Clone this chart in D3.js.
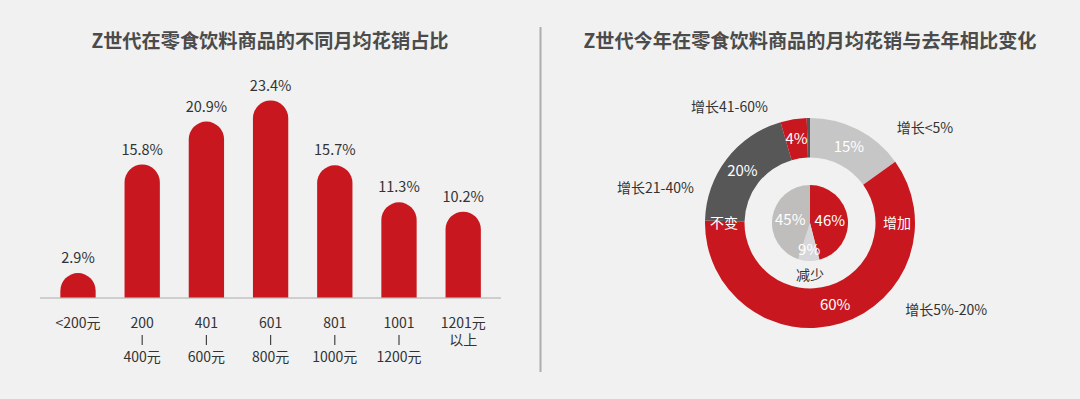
<!DOCTYPE html>
<html>
<head>
<meta charset="utf-8">
<script src="https://cdn.jsdelivr.net/npm/d3@7"></script>
<style>
  html, body { margin: 0; padding: 0; background: #f0f1f0; }
  svg { display: block; font-family: "Noto Sans CJK SC", "Noto Sans", sans-serif; }
</style>
</head>
<body>
<div id="chart"></div>
<script>
// left chart data ("|" marks the little separator between range ends)
const spendCategories = [["<200元"], ["200", "|", "400元"], ["401", "|", "600元"], ["601", "|", "800元"],
    ["801", "|", "1000元"], ["1001", "|", "1200元"], ["1201元", "以上"]];
const spendShares = [2.9, 15.8, 20.9, 23.4, 15.7, 11.3, 10.2];

// right chart data
const ringNames = ["增长<5%", "增长5%-20%", "增长21-40%", "增长41-60%", "增长60%以上"];
const ringValues = [15, 60, 20, 4, 0.5];
const pieNames = ["增加", "减少", "不变"];
const pieValues = [46, 9, 45];

const W = 1080, H = 399;
const red = "#c8171e", dark = "#575757";
const textColor = "#333";

const svg = d3.select("#chart").append("svg")
    .attr("width", W)
    .attr("height", H);

svg.append("rect").attr("width", W).attr("height", H).attr("fill", "#f0f1f0");

// ---------- left: bar chart ----------
const left = svg.append("g");
const baseY = 297.5;

left.append("text")
    .attr("x", 270).attr("y", 41).attr("dy", "0.35em")
    .attr("text-anchor", "middle")
    .attr("font-size", 19.2).attr("font-weight", "bold")
    .attr("fill", "#4b4b4b")
    .text("Z世代在零食饮料商品的不同月均花销占比");

const x = d3.scaleBand()
    .domain(d3.range(spendShares.length))
    .range([45.9, 495.3])
    .paddingInner(0.45)
    .paddingOuter(0.225);

const y = d3.scaleLinear()
    .domain([0, 23.4])
    .range([baseY, 100.5]);

// axis line
left.append("line")
    .attr("x1", 40).attr("x2", 501)
    .attr("y1", baseY + 0.5).attr("y2", baseY + 0.5)
    .attr("stroke", "#c2c2c2").attr("stroke-width", 1.6);

const bw = x.bandwidth();
const r = bw / 2;
function barPath(i, v) {
    const x0 = x(i), top = y(v);
    return `M${x0},${baseY} V${top + r} A${r},${r} 0 0 1 ${x0 + bw},${top + r} V${baseY} Z`;
}

left.selectAll("path.bar")
    .data(spendShares)
    .join("path")
    .attr("class", "bar")
    .attr("d", (d, i) => barPath(i, d))
    .attr("fill", red);

left.selectAll("text.val")
    .data(spendShares)
    .join("text")
    .attr("class", "val")
    .attr("x", (d, i) => x(i) + bw / 2)
    .attr("y", d => y(d) - 15)
    .attr("dy", "0.35em")
    .attr("text-anchor", "middle")
    .attr("font-size", 14.5)
    .attr("fill", textColor)
    .text(d => d.toFixed(1) + "%");

// category labels: one text per category, lines as tspans
const lineH = 16.7, firstLine = 323.3;
const cat = left.selectAll("g.cat")
    .data(spendCategories)
    .join("g")
    .attr("class", "cat")
    .attr("transform", (d, i) => `translate(${x(i) + bw / 2},0)`);

cat.append("text")
    .attr("text-anchor", "middle")
    .attr("font-size", 14)
    .attr("fill", textColor)
    .selectAll("tspan")
    .data(d => d.map((s, j) => ({ s, j })).filter(o => o.s !== "|"))
    .join("tspan")
    .attr("x", 0)
    .attr("y", o => firstLine + o.j * lineH)
    .attr("dy", "0.35em")
    .text(o => o.s);

cat.selectAll("line")
    .data(d => d.map((s, j) => ({ s, j })).filter(o => o.s === "|"))
    .join("line")
    .attr("x1", 0).attr("x2", 0)
    .attr("y1", o => firstLine + o.j * lineH - 5)
    .attr("y2", o => firstLine + o.j * lineH + 5)
    .attr("stroke", "#444")
    .attr("stroke-width", 1.2);

// divider
svg.append("line")
    .attr("x1", 540.5).attr("x2", 540.5)
    .attr("y1", 27).attr("y2", 372)
    .attr("stroke", "#adadad").attr("stroke-width", 2);

// ---------- right: donut ----------
svg.append("text")
    .attr("x", 810).attr("y", 41).attr("dy", "0.35em")
    .attr("text-anchor", "middle")
    .attr("font-size", 19.2).attr("font-weight", "bold")
    .attr("fill", "#4b4b4b")
    .text("Z世代今年在零食饮料商品的月均花销与去年相比变化");

const cx = 810, cy = 223;
const right = svg.append("g").attr("transform", `translate(${cx},${cy})`);

const ringColors = ["#c6c6c6", red, dark, red, dark];
const pieColors = [red, "#d7d7d9", "#c0bebc"];

const pie = d3.pie().sort(null).value(d => d);
const ringArcs = pie(ringValues);
const pieArcs = pie(pieValues);

const ringArc = d3.arc().innerRadius(65.5).outerRadius(105);
const innerArc = d3.arc().innerRadius(0).outerRadius(38);

right.selectAll("path.ring")
    .data(ringArcs)
    .join("path")
    .attr("class", "ring")
    .attr("d", ringArc)
    .attr("fill", (d, i) => ringColors[i]);

right.selectAll("path.inner")
    .data(pieArcs)
    .join("path")
    .attr("class", "inner")
    .attr("d", innerArc)
    .attr("fill", (d, i) => pieColors[i]);

// ring percentages
right.selectAll("text.ringval")
    .data(ringArcs.filter(d => d.value >= 1))
    .join("text")
    .attr("class", "ringval")
    .attr("transform", d => `translate(${ringArc.centroid(d)})`)
    .attr("dy", "0.35em")
    .attr("text-anchor", "middle")
    .attr("font-size", 15)
    .attr("fill", "#fff")
    .text(d => d.value + "%");

// pie percentages
right.selectAll("text.pieval")
    .data(pieArcs)
    .join("text")
    .attr("class", "pieval")
    .attr("transform", d => {
        const rr = d.value < 10 ? 27 : 20;
        const a = (d.startAngle + d.endAngle) / 2;
        return `translate(${rr * Math.sin(a)},${-rr * Math.cos(a)})`;
    })
    .attr("dy", "0.35em")
    .attr("text-anchor", "middle")
    .attr("font-size", 15)
    .attr("fill", "#fff")
    .text(d => d.value + "%");

// pie category labels, laid on the ring / gap
const pieLabelPos = { "增加": [87, 90, "#fff"], "不变": [86, 270, "#fff"], "减少": [52, 180, textColor] };
right.selectAll("text.piename")
    .data(pieNames)
    .join("text")
    .attr("class", "piename")
    .attr("transform", d => {
        const [rr, deg] = pieLabelPos[d];
        const a = deg * Math.PI / 180;
        return `translate(${rr * Math.sin(a)},${-rr * Math.cos(a)})`;
    })
    .attr("dy", "0.35em")
    .attr("text-anchor", "middle")
    .attr("font-size", 14)
    .attr("fill", d => pieLabelPos[d][2])
    .text(d => d);

// outer labels
const ringLabelPos = {
    "增长<5%": [115, -94.7],
    "增长5%-20%": [136.3, 87],
    "增长21-40%": [-154.6, -35.3],
    "增长41-60%": [-80.6, -116.3]
};
right.selectAll("text.ringname")
    .data(ringNames.filter(n => ringLabelPos[n]))
    .join("text")
    .attr("class", "ringname")
    .attr("x", d => ringLabelPos[d][0])
    .attr("y", d => ringLabelPos[d][1])
    .attr("dy", "0.35em")
    .attr("text-anchor", "middle")
    .attr("font-size", 14)
    .attr("fill", textColor)
    .text(d => d);
</script>
</body>
</html>
